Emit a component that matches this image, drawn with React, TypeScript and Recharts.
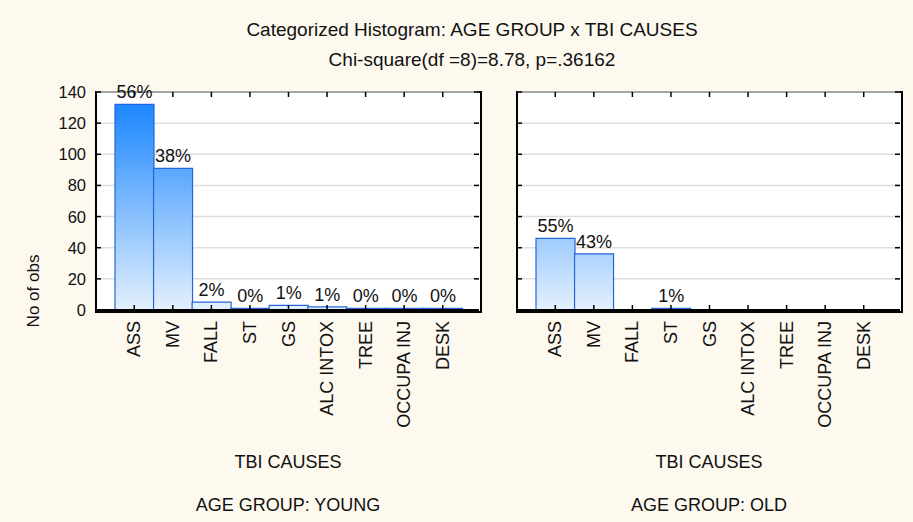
import React from 'react'
import { BarChart, Bar, XAxis, YAxis, CartesianGrid, LabelList } from 'recharts'

const causes = ['ASS', 'MV', 'FALL', 'ST', 'GS', 'ALC INTOX', 'TREE', 'OCCUPA INJ', 'DESK']
const youngCounts = [132, 91, 5, 1, 3, 2, 1, 1, 1]
const oldCounts = [46, 36, 0, 1, 0, 0, 0, 0, 0]
const youngPct = ['56%', '38%', '2%', '0%', '1%', '1%', '0%', '0%', '0%']
const oldPct = ['55%', '43%', '', '1%', '', '', '', '', '']
const yTicks = [0, 20, 40, 60, 80, 100, 120, 140]

const FONT = '"Liberation Sans", Arial, sans-serif'
const BG = '#fdf9ef'
const PLOT_TOP = 92
const PLOT_BOTTOM = 310
const PLOT_W = 383
const PLOT_H = PLOT_BOTTOM - PLOT_TOP
const H = 522

// left ticks also draw the matching tick on the right edge of the frame
const LeftTick = ({ x, y, payload, showLabel }: any) => (
  <g>
    <line x1={x} x2={x + 5} y1={y} y2={y} stroke="#000" strokeWidth={1.5} />
    <line x1={x + PLOT_W} x2={x + PLOT_W - 5} y1={y} y2={y} stroke="#000" strokeWidth={1.5} />
    {showLabel && (
      <text x={x - 10} y={y} textAnchor="end" dominantBaseline="central" fontSize={16.5} fontFamily={FONT} fill="#111">
        {payload.value}
      </text>
    )}
  </g>
)

// bottom ticks also draw the matching tick on the top edge
const BottomTick = ({ x, y, payload }: any) => (
  <g>
    <line x1={x} x2={x} y1={y} y2={y - 5} stroke="#000" strokeWidth={1.5} />
    <line x1={x} x2={x} y1={y - PLOT_H} y2={y - PLOT_H + 5} stroke="#000" strokeWidth={1.5} />
    <text
      x={x}
      y={y + 11}
      transform={`rotate(-90 ${x} ${y + 11})`}
      textAnchor="end"
      dominantBaseline="central"
      fontSize={18}
      fontFamily={FONT}
      fill="#111"
    >
      {payload.value}
    </text>
  </g>
)

const Panel = ({ counts, pcts, gradId, width, margin, yWidth, showYLabels }: any) => {
  const data = causes.map((c, i) => ({ cause: c, count: counts[i], pct: pcts[i] }))
  const axisLine = { stroke: '#000', strokeWidth: 2 }
  return (
    <BarChart width={width} height={H} data={data} margin={margin} barCategoryGap={0}>
      <defs>
        <linearGradient id={gradId} gradientUnits="userSpaceOnUse" x1={0} x2={0} y1={PLOT_TOP} y2={PLOT_BOTTOM}>
          <stop offset="0%" stopColor="#0f80ff" />
          <stop offset="100%" stopColor="#e4f0fd" />
        </linearGradient>
      </defs>
      <CartesianGrid vertical={false} stroke="#dedede" strokeWidth={1.5} />
      <XAxis
        dataKey="cause"
        interval={0}
        height={100}
        tickSize={0}
        tickMargin={0}
        tickLine={false}
        axisLine={axisLine}
        padding={{ left: 19, right: 17 }}
        tick={<BottomTick />}
      />
      <YAxis
        domain={[0, 140]}
        ticks={yTicks}
        width={yWidth}
        tickSize={0}
        tickMargin={0}
        tickLine={false}
        axisLine={axisLine}
        tick={<LeftTick showLabel={showYLabels} />}
      />
      <Bar dataKey="count" fill={`url(#${gradId})`} stroke="#2566d8" strokeWidth={1.2} isAnimationActive={false}>
        <LabelList dataKey="pct" position="top" offset={6} fontSize={18} fontFamily={FONT} fill="#111" />
      </Bar>
    </BarChart>
  )
}

const textStyle: React.CSSProperties = {
  position: 'absolute',
  fontFamily: FONT,
  color: '#111',
  whiteSpace: 'nowrap',
  transform: 'translateX(-50%)',
  lineHeight: 1,
}

// white plot background with black frame, drawn beneath the chart svg
const frame = (left: number): React.CSSProperties => ({
  position: 'absolute',
  left: left - 1,
  top: PLOT_TOP - 1,
  width: PLOT_W,
  height: PLOT_H,
  boxSizing: 'content-box',
  border: '2px solid #000',
  background: '#fff',
})

export default function App() {
  return (
    <div style={{ position: 'absolute', left: 0, top: 0, width: 913, height: H, background: BG, overflow: 'hidden' }}>
      <div style={{ ...textStyle, left: 472, top: 20, fontSize: 19 }}>Categorized Histogram: AGE GROUP x TBI CAUSES</div>
      <div style={{ ...textStyle, left: 472, top: 50, fontSize: 19 }}>Chi-square(df =8)=8.78, p=.36162</div>
      <div
        style={{
          ...textStyle,
          left: 33,
          top: 291,
          fontSize: 17,
          transform: 'translate(-50%, -50%) rotate(-90deg)',
        }}
      >
        No of obs
      </div>
      <div style={frame(96)} />
      <div style={frame(517)} />
      <div style={{ position: 'absolute', left: 0, top: 0 }}>
        <Panel
          counts={youngCounts}
          pcts={youngPct}
          gradId="gradYoung"
          width={500}
          yWidth={40}
          showYLabels
          margin={{ top: PLOT_TOP, left: 56, right: 500 - 96 - PLOT_W, bottom: H - PLOT_BOTTOM - 100 }}
        />
      </div>
      <div style={{ position: 'absolute', left: 500, top: 0 }}>
        <Panel
          counts={oldCounts}
          pcts={oldPct}
          gradId="gradOld"
          width={413}
          yWidth={10}
          showYLabels={false}
          margin={{ top: PLOT_TOP, left: 7, right: 413 - 17 - PLOT_W, bottom: H - PLOT_BOTTOM - 100 }}
        />
      </div>
      <div style={{ ...textStyle, left: 288, top: 453, fontSize: 18 }}>TBI CAUSES</div>
      <div style={{ ...textStyle, left: 709, top: 453, fontSize: 18 }}>TBI CAUSES</div>
      <div style={{ ...textStyle, left: 288, top: 496, fontSize: 18 }}>AGE GROUP: YOUNG</div>
      <div style={{ ...textStyle, left: 709, top: 496, fontSize: 18 }}>AGE GROUP: OLD</div>
    </div>
  )
}
